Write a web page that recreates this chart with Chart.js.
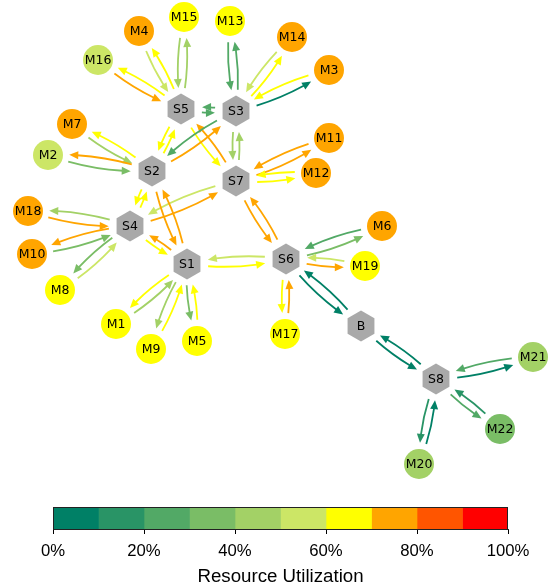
<!DOCTYPE html>
<html>
<head>
<meta charset="utf-8">
<script src="https://cdn.jsdelivr.net/npm/chart.js@4.4.1/dist/chart.umd.min.js"></script>
<style>
  html, body { margin: 0; padding: 0; background: #fff; }
  #wrap { position: relative; width: 560px; height: 587px; }
  #graphChart { position: absolute; left: 0; top: 0; }
  #scaleChart { position: absolute; left: 0; top: 490px; }
</style>
</head>
<body>
<div id="wrap">
  <canvas id="graphChart" width="560" height="490"></canvas>
  <canvas id="scaleChart" width="560" height="97"></canvas>
</div>
<script>
// switches (hexagons), layout coordinates
const switchNames = ["S1", "S2", "S3", "S4", "S5", "S6", "S7", "S8", "B"];
const switchX = [187, 152, 236, 130, 181, 286, 236, 436, 361];
const switchY = [264, 171, 111, 226, 109, 259, 181, 379, 326];

// machines (circles), layout coordinates + utilization in %
const machineNames = ["M1", "M2", "M3", "M4", "M5", "M6", "M7", "M8", "M9", "M10", "M11",
  "M12", "M13", "M14", "M15", "M16", "M17", "M18", "M19", "M20", "M21", "M22"];
const machineX = [116, 48, 329, 139, 197, 382, 72, 60, 151, 32, 329,
  316, 230, 292, 184, 98, 285, 28, 365, 419, 533, 500];
const machineY = [324, 155, 70, 31, 341, 226, 124, 290, 349, 254, 138,
  173, 21, 37, 17, 60, 334, 211, 266, 464, 357, 429];
const machineUtil = [65, 55, 75, 72, 63, 74, 71, 66, 62, 73, 76,
  72, 64, 77, 68, 56, 61, 74, 67, 46, 44, 36];

// directed links and their utilization in %
const edgeFrom = [
  "S5", "M15", "M4", "S5", "M16", "S5", "S5", "S3", "S5", "S2", "S5", "S7",
  "M13", "S3", "M14", "S3", "M3", "S3", "S3", "S2", "S3", "S7",
  "M11", "S7", "M12", "S7", "S7", "S4", "S7", "S6",
  "M7", "S2", "M2", "S2", "S2", "S4", "S2", "S1",
  "M18", "S4", "M10", "S4", "S4", "M8", "S4", "S1",
  "S1", "M1", "S1", "M9", "S1", "M5", "S6", "S1",
  "M6", "S6", "M19", "S6", "S6", "M17", "S6", "B",
  "B", "S8", "M21", "S8", "S8", "M22", "S8", "M20"
];
const edgeTo = [
  "M15", "S5", "S5", "M4", "S5", "M16", "S3", "S5", "S2", "S5", "S7", "S5",
  "S3", "M13", "S3", "M14", "S3", "M3", "S2", "S3", "S7", "S3",
  "S7", "M11", "S7", "M12", "S4", "S7", "S6", "S7",
  "S2", "M7", "S2", "M2", "S4", "S2", "S1", "S2",
  "S4", "M18", "S4", "M10", "M8", "S4", "S1", "S4",
  "M1", "S1", "M9", "S1", "M5", "S1", "S1", "S6",
  "S6", "M6", "S6", "M19", "M17", "S6", "B", "S6",
  "S8", "B", "S8", "M21", "M22", "S8", "M20", "S8"
];
const edgeUtil = [
  45, 44, 55, 65, 75, 63, 25, 24, 64, 66, 62, 73,
  25, 27, 56, 65, 64, 5, 25, 74, 45, 46,
  72, 74, 62, 67, 54, 76, 73, 75,
  43, 63, 35, 78, 65, 61, 71, 77,
  72, 44, 36, 74, 37, 55, 64, 76,
  66, 45, 44, 62, 34, 63, 56, 67,
  26, 36, 55, 72, 64, 75, 6, 4,
  3, 7, 27, 5, 24, 15, 16, 8
];

// colour scale
const utilBins = [0, 10, 20, 30, 40, 50, 60, 70, 80, 90, 100];
const utilColors = ["#008066", "#299466", "#52a966", "#7abd66", "#a3d166", "#cce666",
  "#ffff00", "#ffa500", "#ff5500", "#ff0000"];
const tickValues = [0, 20, 40, 60, 80, 100];

const ARC = 0.1;        // arc3 curvature
const SHRINK = 21;      // px kept free around a node
const HEAD_LEN = 9;
const HEAD_HALF = 4;

function utilColor(u) {
  for (let i = 0; i < utilColors.length; i++) {
    if (u < utilBins[i + 1]) return utilColors[i];
  }
  return utilColors[utilColors.length - 1];
}

// hexagon marker for switches
const hexImage = document.createElement("canvas");
hexImage.width = 28;
hexImage.height = 32;
(function () {
  const c = hexImage.getContext("2d");
  c.beginPath();
  for (let k = 0; k < 6; k++) {
    const a = (-90 + 60 * k) * Math.PI / 180;
    const px = 14 + 15.5 * Math.cos(a);
    const py = 16 + 15.5 * Math.sin(a);
    if (k === 0) c.moveTo(px, py); else c.lineTo(px, py);
  }
  c.closePath();
  c.fillStyle = "#a9a9a9";
  c.fill();
})();

function nodePixels(chart) {
  const xs = chart.scales.x, ys = chart.scales.y;
  const pos = {};
  switchNames.forEach((n, i) => {
    pos[n] = [xs.getPixelForValue(switchX[i]), ys.getPixelForValue(switchY[i])];
  });
  machineNames.forEach((n, i) => {
    pos[n] = [xs.getPixelForValue(machineX[i]), ys.getPixelForValue(machineY[i])];
  });
  return pos;
}

// curved arrows between nodes
const edgePlugin = {
  id: "edges",
  beforeDatasetsDraw(chart) {
    const ctx = chart.ctx;
    const pos = nodePixels(chart);
    ctx.save();
    ctx.lineWidth = 1.8;
    ctx.lineCap = "butt";
    edgeFrom.forEach((from, i) => {
      const [x0, y0] = pos[from];
      const [x2, y2] = pos[edgeTo[i]];
      const dx = x2 - x0, dy = y2 - y0;
      const len = Math.hypot(dx, dy);
      const cx = (x0 + x2) / 2 - ARC * dy;
      const cy = (y0 + y2) / 2 + ARC * dx;
      const bez = (t) => [
        (1 - t) * (1 - t) * x0 + 2 * t * (1 - t) * cx + t * t * x2,
        (1 - t) * (1 - t) * y0 + 2 * t * (1 - t) * cy + t * t * y2
      ];
      const t0 = SHRINK / len;
      const tTip = 1 - SHRINK / len;
      const tBase = tTip - (HEAD_LEN - 1) / len;
      // sub-curve control point between t0 and tBase
      const a = (1 - t0) * (1 - tBase), b = (1 - t0) * tBase + t0 * (1 - tBase), c = t0 * tBase;
      const qx = a * x0 + b * cx + c * x2;
      const qy = a * y0 + b * cy + c * y2;
      const p0 = bez(t0), p1 = bez(tBase), tip = bez(tTip);
      const color = utilColor(edgeUtil[i]);
      ctx.strokeStyle = color;
      ctx.fillStyle = color;
      ctx.beginPath();
      ctx.moveTo(p0[0], p0[1]);
      ctx.quadraticCurveTo(qx, qy, p1[0], p1[1]);
      ctx.stroke();
      // arrow head
      const ddx = 2 * (1 - tTip) * (cx - x0) + 2 * tTip * (x2 - cx);
      const ddy = 2 * (1 - tTip) * (cy - y0) + 2 * tTip * (y2 - cy);
      const dl = Math.hypot(ddx, ddy);
      const ux = ddx / dl, uy = ddy / dl;
      const bx = tip[0] - ux * HEAD_LEN, by = tip[1] - uy * HEAD_LEN;
      ctx.beginPath();
      ctx.moveTo(tip[0], tip[1]);
      ctx.lineTo(bx - uy * HEAD_HALF, by + ux * HEAD_HALF);
      ctx.lineTo(bx + uy * HEAD_HALF, by - ux * HEAD_HALF);
      ctx.closePath();
      ctx.fill();
    });
    ctx.restore();
  }
};

// node names
const labelPlugin = {
  id: "nodeLabels",
  afterDatasetsDraw(chart) {
    const ctx = chart.ctx;
    const pos = nodePixels(chart);
    ctx.save();
    ctx.font = "12.5px 'DejaVu Sans'";
    ctx.fillStyle = "#000";
    ctx.textAlign = "center";
    ctx.textBaseline = "middle";
    Object.keys(pos).forEach((n) => {
      ctx.fillText(n, pos[n][0], pos[n][1] + 0.5);
    });
    ctx.restore();
  }
};

new Chart(document.getElementById("graphChart"), {
  type: "scatter",
  data: {
    datasets: [
      {
        label: "Switches",
        data: switchNames.map((n, i) => ({ x: switchX[i], y: switchY[i] })),
        pointStyle: hexImage,
        pointRadius: 15,
        clip: false
      },
      {
        label: "Machines",
        data: machineNames.map((n, i) => ({ x: machineX[i], y: machineY[i] })),
        pointStyle: "circle",
        pointRadius: 15,
        pointBorderWidth: 0,
        pointBackgroundColor: machineUtil.map(utilColor),
        clip: false
      }
    ]
  },
  options: {
    responsive: false,
    animation: false,
    events: [],
    layout: { padding: 0, autoPadding: false },
    scales: {
      x: { type: "linear", min: 0, max: 560, display: false },
      y: { type: "linear", min: 0, max: 490, reverse: true, display: false }
    },
    plugins: {
      legend: { display: false },
      tooltip: { enabled: false }
    }
  },
  plugins: [edgePlugin, labelPlugin]
});

// colour bar
const framePlugin = {
  id: "frame",
  afterDraw(chart) {
    const { ctx, chartArea } = chart;
    ctx.save();
    ctx.strokeStyle = "#222";
    ctx.lineWidth = 1;
    ctx.strokeRect(Math.round(chartArea.left) + 0.5, Math.round(chartArea.top) + 0.5,
      Math.round(chartArea.right - chartArea.left) - 1, Math.round(chartArea.bottom - chartArea.top));
    ctx.restore();
  }
};

new Chart(document.getElementById("scaleChart"), {
  type: "bar",
  data: {
    labels: [""],
    datasets: utilColors.map((c, i) => ({
      data: [utilBins[i + 1] - utilBins[i]],
      backgroundColor: c,
      borderWidth: 0,
      barPercentage: 1,
      categoryPercentage: 1
    }))
  },
  options: {
    indexAxis: "y",
    responsive: false,
    animation: false,
    events: [],
    layout: { padding: { left: 53, right: 52, top: 17, bottom: 0 } },
    scales: {
      x: {
        stacked: true,
        min: 0,
        max: 100,
        afterBuildTicks(scale) {
          scale.ticks = tickValues.map((v) => ({ value: v }));
        },
        afterFit(scale) {
          scale.height = 58;
        },
        ticks: {
          callback: (v) => v + "%",
          color: "#000",
          font: { family: "'Liberation Sans', Arial, sans-serif", size: 16.7 },
          padding: 7,
          maxRotation: 0
        },
        grid: { drawOnChartArea: false, drawTicks: true, tickLength: 5, color: "#000" },
        border: { color: "#222" },
        title: {
          display: true,
          text: "Resource Utilization",
          color: "#000",
          font: { family: "'Liberation Sans', Arial, sans-serif", size: 18.7 },
          padding: { top: 0, bottom: -1 }
        }
      },
      y: { stacked: true, display: false }
    },
    plugins: {
      legend: { display: false },
      tooltip: { enabled: false }
    }
  },
  plugins: [framePlugin]
});
</script>
</body>
</html>
